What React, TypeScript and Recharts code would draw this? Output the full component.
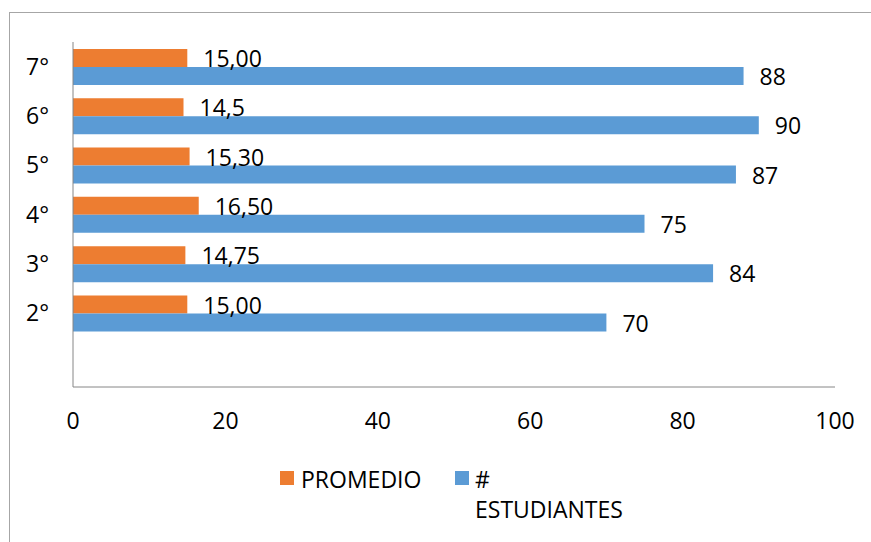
import React from 'react';
import { BarChart, Bar, XAxis, YAxis, LabelList } from 'recharts';

const categories = ['7°', '6°', '5°', '4°', '3°', '2°', ''];
const promedio = [15, 14.5, 15.3, 16.5, 14.75, 15, null];
const promedioLabels = ['15,00', '14,5', '15,30', '16,50', '14,75', '15,00', null];
const estudiantes = [88, 90, 87, 75, 84, 70, null];
const estudiantesLabels = ['88', '90', '87', '75', '84', '70', null];
const xTicks = [0, 20, 40, 60, 80, 100];

const seriesNames = ['PROMEDIO', '#\nESTUDIANTES'];
const seriesColors = ['#ED7D31', '#5B9BD5'];

const data = categories.map((c, i) => ({
  cat: c,
  promedio: promedio[i],
  promLabel: promedioLabels[i],
  estudiantes: estudiantes[i],
  estLabel: estudiantesLabels[i],
}));

const FONT = '"Open Sans", sans-serif';

export default function App() {
  return (
    <div style={{ position: 'absolute', left: 0, top: 0, width: 871, height: 542, overflow: 'hidden', background: '#fff', fontFamily: FONT }}>
      <div style={{ position: 'absolute', left: 9, top: 12, width: 1000, height: 1000, border: '1px solid #a6a6a6', boxSizing: 'border-box' }} />
      <div style={{ position: 'absolute', left: 0, top: 0 }}>
        <BarChart
          width={871}
          height={542}
          data={data}
          layout="vertical"
          margin={{ top: 42, right: 36, bottom: 125, left: 0 }}
          barGap={0}
        >
          <XAxis
            type="number"
            domain={[0, 100]}
            ticks={xTicks}
            height={30}
            tickLine={false}
            tickSize={0}
            tickMargin={26}
            axisLine={{ stroke: '#868686' }}
            tick={{ fill: '#000', fontSize: 23, fontFamily: FONT }}
            interval={0}
          />
          <YAxis
            type="category"
            dataKey="cat"
            width={73}
            tickLine={false}
            tickSize={0}
            tickMargin={24}
            axisLine={{ stroke: '#868686' }}
            tick={{ fill: '#000', fontSize: 23, fontFamily: FONT }}
            interval={0}
          />
          <Bar dataKey="promedio" fill={seriesColors[0]} barSize={18} isAnimationActive={false}>
            <LabelList dataKey="promLabel" position="right" offset={16} fill="#000" fontSize={23} fontFamily={FONT} dy={1} />
          </Bar>
          <Bar dataKey="estudiantes" fill={seriesColors[1]} barSize={18} isAnimationActive={false}>
            <LabelList dataKey="estLabel" position="right" offset={16} fill="#000" fontSize={23} fontFamily={FONT} dy={1} />
          </Bar>
        </BarChart>
      </div>
      <div style={{ position: 'absolute', left: 280, top: 471, width: 14, height: 14, background: seriesColors[0] }} />
      <div style={{ position: 'absolute', left: 301, top: 464, fontSize: 23, color: '#000', whiteSpace: 'pre', lineHeight: '30px' }}>{seriesNames[0]}</div>
      <div style={{ position: 'absolute', left: 455, top: 471, width: 14, height: 14, background: seriesColors[1] }} />
      <div style={{ position: 'absolute', left: 475, top: 464, fontSize: 23, color: '#000', whiteSpace: 'pre', lineHeight: '30px' }}>{seriesNames[1]}</div>
    </div>
  );
}
